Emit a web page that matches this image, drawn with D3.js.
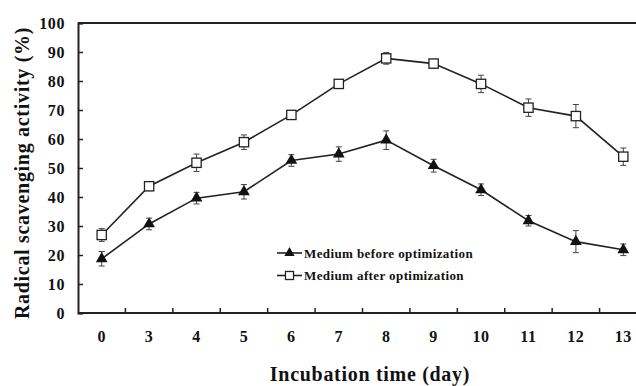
<!DOCTYPE html>
<html>
<head>
<meta charset="utf-8">
<script src="https://cdn.jsdelivr.net/npm/d3@7"></script>
<style>
  body { margin: 0; background: #fff; }
  text { font-family: "Liberation Serif", "DejaVu Serif", serif; font-weight: bold; }
</style>
</head>
<body>
<div id="chart"></div>
<script>
// data
var days = ["0", "3", "4", "5", "6", "7", "8", "9", "10", "11", "12", "13"];
var before = [18.7, 30.7, 39.6, 41.8, 52.6, 54.8, 59.6, 50.8, 42.5, 31.8, 24.6, 21.8];
var beforeErr = [2.5, 2, 2, 2.5, 2, 2.5, 3.2, 2.2, 2, 1.8, 3.8, 2];
var after = [26.9, 43.7, 51.8, 58.9, 68.3, 79, 87.8, 86, 79, 70.8, 67.9, 53.9];
var afterErr = [2.2, 1.5, 3, 2.5, 1.5, 1.5, 2, 1.5, 3, 3, 4, 3];
var yTicks = [0, 10, 20, 30, 40, 50, 60, 70, 80, 90, 100];

var svgWidth = 636;
var svgHeight = 386;
var margin = { top: 23, left: 78 };
var width = 569;   // plot runs past the right edge, as in the source image
var height = 290;

var svg = d3.select("#chart")
  .append("svg")
  .attr("width", svgWidth)
  .attr("height", svgHeight);

var chartGroup = svg.append("g")
  .attr("transform", `translate(${margin.left}, ${margin.top})`);

var xScale = d3.scaleBand()
  .domain(days)
  .range([0, width]);

var yScale = d3.scaleLinear()
  .domain([0, 100])
  .range([height, 0]);

var cx = d => xScale(d) + xScale.bandwidth() / 2;

// top frame line
chartGroup.append("line")
  .attr("x1", 0).attr("x2", width)
  .attr("y1", 0).attr("y2", 0)
  .attr("stroke", "#222").attr("stroke-width", 2);

// y axis, ticks pointing inward
var leftAxis = d3.axisLeft(yScale).tickValues(yTicks).tickSize(-5).tickPadding(13);
var yAxisG = chartGroup.append("g").call(leftAxis);
yAxisG.select(".domain").attr("stroke", "#222").attr("stroke-width", 2);
yAxisG.selectAll(".tick line").attr("stroke", "#222").attr("stroke-width", 1.5);
yAxisG.selectAll("text")
  .style("font-size", "16px")
  .style("letter-spacing", "0.6px")
  .attr("fill", "#111")
  .attr("font-family", "Liberation Serif");

// x axis: ticks between categories, pointing up
var xAxisG = chartGroup.append("g")
  .attr("transform", `translate(0, ${height})`);
xAxisG.append("line")
  .attr("x1", 0).attr("x2", width)
  .attr("stroke", "#222").attr("stroke-width", 2);
xAxisG.selectAll(".xtick")
  .data(days.slice(1))
  .enter()
  .append("line")
  .attr("x1", d => xScale(d)).attr("x2", d => xScale(d))
  .attr("y1", 0).attr("y2", -5)
  .attr("stroke", "#222").attr("stroke-width", 1.5);
xAxisG.selectAll(".xlabel")
  .data(days)
  .enter()
  .append("text")
  .attr("x", d => cx(d))
  .attr("y", 29)
  .attr("text-anchor", "middle")
  .style("font-size", "16px")
  .style("letter-spacing", "0.6px")
  .attr("fill", "#111")
  .text(d => d);

// axis titles
svg.append("text")
  .attr("transform", "rotate(-90)")
  .attr("x", -173)
  .attr("y", 29)
  .attr("text-anchor", "middle")
  .style("font-size", "20px")
  .style("letter-spacing", "0.7px")
  .attr("fill", "#111")
  .text("Radical scavenging activity (%)");

svg.append("text")
  .attr("x", 370)
  .attr("y", 381)
  .attr("text-anchor", "middle")
  .style("font-size", "20px")
  .style("letter-spacing", "0.7px")
  .attr("fill", "#111")
  .text("Incubation time (day)");

// series
var series = [
  { name: "Medium before optimization", values: before, errs: beforeErr, shape: "tri" },
  { name: "Medium after optimization", values: after, errs: afterErr, shape: "sq" }
];

var line = d3.line()
  .x((d, i) => cx(days[i]))
  .y(d => yScale(d));

function drawMarker(g, shape, sz) {
  if (shape === "tri") {
    g.append("path")
      .attr("d", d3.symbol().type(d3.symbolTriangle).size(sz))
      .attr("fill", "#111");
  } else {
    var h = Math.sqrt(sz) * 0.6;
    g.append("rect")
      .attr("x", -h).attr("y", -h)
      .attr("width", 2 * h).attr("height", 2 * h)
      .attr("fill", "#fff")
      .attr("stroke", "#222").attr("stroke-width", 1.3);
  }
}

series.forEach(function(s) {
  chartGroup.append("path")
    .datum(s.values)
    .attr("d", line)
    .attr("fill", "none")
    .attr("stroke", "#222")
    .attr("stroke-width", 1.6);

  var pts = chartGroup.selectAll(".pt-" + s.shape)
    .data(s.values)
    .enter()
    .append("g")
    .attr("transform", (d, i) => `translate(${cx(days[i])}, ${yScale(d)})`);

  pts.each(function(d, i) {
    var g = d3.select(this);
    var e = s.errs[i];
    var top = yScale(d + e) - yScale(d);
    var bot = yScale(d - e) - yScale(d);
    g.append("line").attr("x1", 0).attr("x2", 0).attr("y1", top).attr("y2", bot)
      .attr("stroke", "#444").attr("stroke-width", 1);
    g.append("line").attr("x1", -3).attr("x2", 3).attr("y1", top).attr("y2", top)
      .attr("stroke", "#444").attr("stroke-width", 1);
    g.append("line").attr("x1", -3).attr("x2", 3).attr("y1", bot).attr("y2", bot)
      .attr("stroke", "#444").attr("stroke-width", 1);
    drawMarker(g, s.shape, 60);
  });
});

// legend
var legend = svg.append("g")
  .attr("transform", "translate(277, 253)");

series.forEach(function(s, i) {
  var row = legend.append("g")
    .attr("transform", `translate(0, ${i * 22.5})`);
  row.append("line")
    .attr("x1", 0).attr("x2", 25)
    .attr("stroke", "#222").attr("stroke-width", 1.6);
  var m = row.append("g").attr("transform", "translate(12.5, 0)");
  drawMarker(m, s.shape, 45);
  row.append("text")
    .attr("x", 27)
    .attr("y", 4.5)
    .style("font-size", "13px")
    .style("letter-spacing", "0.4px")
    .attr("fill", "#111")
    .text(s.name);
});
</script>
</body>
</html>
